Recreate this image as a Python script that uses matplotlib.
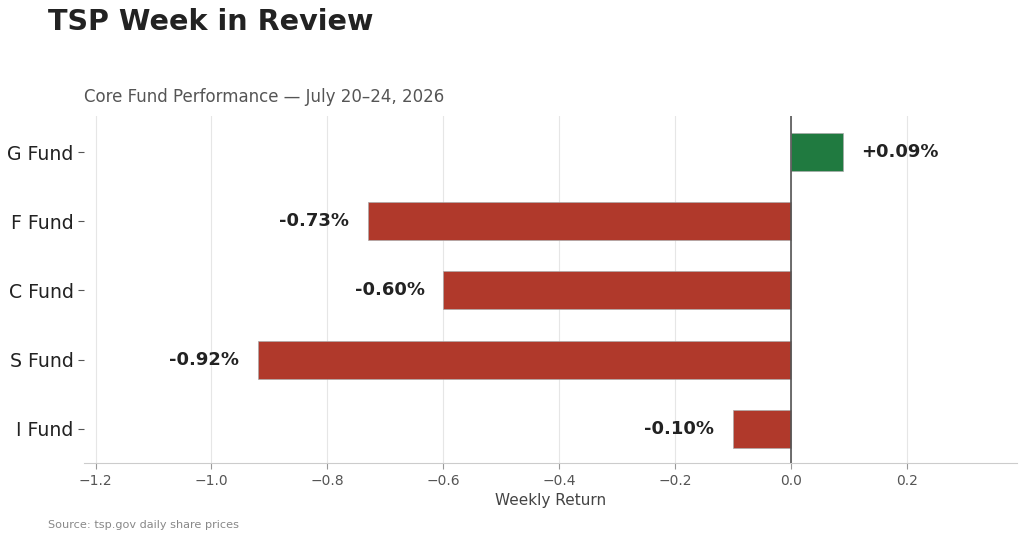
import matplotlib
matplotlib.use("Agg")
import matplotlib.pyplot as plt

plt.rcParams["font.family"] = ["DejaVu Sans"]

funds = ["G Fund", "F Fund", "C Fund", "S Fund", "I Fund"]
returns = [0.09, -0.73, -0.60, -0.92, -0.10]
labels = ["+0.09%", "-0.73%", "-0.60%", "-0.92%", "-0.10%"]

GREEN = "#207a40"
RED = "#b0392b"

fig = plt.figure(figsize=(10.24, 5.4), dpi=100)
ax = fig.add_axes([0.082, 0.142, 0.911, 0.643])

colors = [GREEN if v >= 0 else RED for v in returns]
ypos = list(range(len(funds)))
ax.barh(ypos, returns, height=0.55, color=colors, edgecolor="#aaaaaa", linewidth=0.5, zorder=3)
ax.axvline(0, color="#555555", linewidth=1.2, zorder=4)

for y, v, lab in zip(ypos, returns, labels):
    off = 0.032
    if v >= 0:
        ax.text(v + off, y, lab, va="center", ha="left", fontsize=13, fontweight="bold", color="#222222")
    else:
        ax.text(v - off, y, lab, va="center", ha="right", fontsize=13, fontweight="bold", color="#222222")

ax.set_yticks(ypos)
ax.set_yticklabels(funds, fontsize=13.6, color="#222222")
ax.set_ylim(4.5, -0.52)
ax.set_xlim(min(returns) - 0.3, max(returns) + 0.3)
ax.set_xticks([-1.2, -1.0, -0.8, -0.6, -0.4, -0.2, 0.0, 0.2])
ax.tick_params(axis="x", labelsize=10, colors="#555555", length=4, color="#999999")
ax.tick_params(axis="y", length=4, color="#555555")
ax.set_xlabel("Weekly Return", fontsize=11, color="#444444")
ax.grid(axis="x", color="#e6e6e6", linewidth=0.8, zorder=0)
ax.set_axisbelow(True)
for s in ["top", "right", "left"]:
    ax.spines[s].set_visible(False)
ax.spines["bottom"].set_color("#cccccc")

ax.set_title("Core Fund Performance \u2014 July 20\u201324, 2026", loc="left", fontsize=12, color="#555555", pad=10)
fig.text(0.047, 0.96, "TSP Week in Review", fontsize=20.6, fontweight="bold", color="#222222", va="center", ha="left")
fig.text(0.047, 0.027, "Source: tsp.gov daily share prices", fontsize=8.1, color="#888888", va="center", ha="left")

fig.savefig("out.png", dpi=100)
